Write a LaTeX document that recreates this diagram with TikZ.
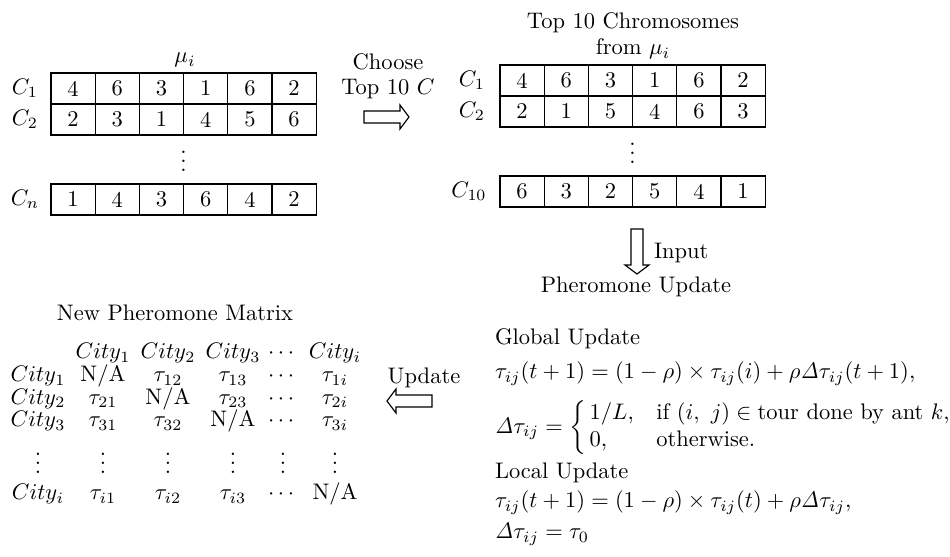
\documentclass[tikz,border=0pt]{standalone}
\usepackage{amsmath}
\newcommand\vdts{\vbox{\baselineskip4pt\lineskiplimit0pt\hbox{.}\hbox{.}\hbox{.}}}
\begin{document}
\begin{tikzpicture}[x=0.4444pt,y=-0.4444pt,
  cell/.style={draw, line width=0.5pt, minimum width=19.64pt, minimum height=13.78pt, inner sep=0pt, outer sep=0pt},
  txt/.style={inner sep=0pt, outer sep=0pt},
  bl/.style={inner sep=0pt, outer sep=0pt, anchor=base},
  blw/.style={inner sep=0pt, outer sep=0pt, anchor=base west},
  harrow/.pic={\draw[line width=0.5pt] (0,-6)--(36,-6)--(36,-12)--(45,0)--(36,12)--(36,6)--(0,6)--cycle;}]
\useasboundingbox (0,0) rectangle (950,557);
% ---------- left array
\node[txt] (Ltitle) at (185,60) {$\mu_i$};
\foreach \v [count=\k] in {4,6,3,1,6,2} \node[cell] (La\k) at ({51+44.2*(\k-0.5)},88.5) {\v};
\foreach \v [count=\k] in {2,3,1,4,5,6} \node[cell] (Lb\k) at ({51+44.2*(\k-0.5)},119.5) {\v};
\foreach \v [count=\k] in {1,4,3,6,4,2} \node[cell] (Ln\k) at ({51+44.2*(\k-0.5)},199.5) {\v};
\node[txt] (LaC) at (25,88.5) {$C_1$};
\node[txt] (LbC) at (25,119.5) {$C_2$};
\node[txt] (LnC) at (25,199.5) {$C_n$};
\node[txt] (Ldots) at (183.6,161) {\vdts};
% ---------- choose
\node[txt] (ch1) at (388,62) {Choose};
\node[txt] (ch2) at (388,89) {Top 10 $C$};
\pic at (364,117) {harrow};
% ---------- right array
\node[txt] (Rt1) at (633,23) {Top 10 Chromosomes};
\node[txt] (Rt2) at (633,49) {from $\mu_i$};
\foreach \v [count=\k] in {4,6,3,1,6,2} \node[cell] (Ra\k) at ({500+44.2*(\k-0.5)},80.5) {\v};
\foreach \v [count=\k] in {2,1,5,4,6,3} \node[cell] (Rb\k) at ({500+44.2*(\k-0.5)},111.5) {\v};
\foreach \v [count=\k] in {6,3,2,5,4,1} \node[cell] (Rn\k) at ({500+44.2*(\k-0.5)},191.5) {\v};
\node[txt] (RaC) at (472,80.5) {$C_1$};
\node[txt] (RbC) at (472,111.5) {$C_2$};
\node[txt] (RnC) at (469,191.5) {$C_{10}$};
\node[txt] (Rdots) at (632.6,153) {\vdts};
% ---------- input arrow
\pic[rotate=-90] at (637,229) {harrow};
\node[txt, anchor=west] (inp) at (654,253) {Input};
\node[txt] (pu) at (636,287) {Pheromone Update};
% ---------- equations
\node[blw] (G) at (495,345) {Global Update};
\node[blw] (E1) at (495,379) {$\tau_{ij}(t+1)=(1-\rho)\times\tau_{ij}(i)+\rho\mathit{\Delta}\tau_{ij}(t+1),$};
\node[txt, anchor=west] (E2) at (495,428) {$\mathit{\Delta}\tau_{ij}=\left\{\begin{array}{@{\,}l@{\quad}l@{}}1/L, & \text{if } (i,\ j)\in\text{tour done by ant } k,\\ 0, & \text{otherwise.}\end{array}\right.$};
\node[blw] (Lo) at (495,479) {Local Update};
\node[blw] (E3) at (495,508) {$\tau_{ij}(t+1)=(1-\rho)\times\tau_{ij}(t)+\rho\mathit{\Delta}\tau_{ij},$};
\node[blw] (E4) at (495,539) {$\mathit{\Delta}\tau_{ij}=\tau_0$};
% ---------- update arrow
\node[txt] (upd) at (424,378) {Update};
\pic[rotate=180] at (432,401) {harrow};
% ---------- matrix
\node[txt] (mt) at (175,313) {New Pheromone Matrix};
\node[bl] (h1) at (103,359) {$City_1$};
\node[bl] (h2) at (168,359) {$City_2$};
\node[bl] (h3) at (233,359) {$City_3$};
\node[bl] (hd) at (283,359) {$\cdots$};
\node[bl] (hi) at (335,359) {$City_i$};
\node[bl] (r1) at (38,382) {$City_1$};
\node[bl] (m11) at (103,382) {N/A};
\node[bl] (m12) at (168,382) {$\tau_{12}$};
\node[bl] (m13) at (233,382) {$\tau_{13}$};
\node[bl] (m1d) at (283,382) {$\cdots$};
\node[bl] (m1i) at (335,382) {$\tau_{1i}$};
\node[bl] (r2) at (38,404.5) {$City_2$};
\node[bl] (m21) at (103,404.5) {$\tau_{21}$};
\node[bl] (m22) at (168,404.5) {N/A};
\node[bl] (m23) at (233,404.5) {$\tau_{23}$};
\node[bl] (m2d) at (283,404.5) {$\cdots$};
\node[bl] (m2i) at (335,404.5) {$\tau_{2i}$};
\node[bl] (r3) at (38,427) {$City_3$};
\node[bl] (m31) at (103,427) {$\tau_{31}$};
\node[bl] (m32) at (168,427) {$\tau_{32}$};
\node[bl] (m33) at (233,427) {N/A};
\node[bl] (m3d) at (283,427) {$\cdots$};
\node[bl] (m3i) at (335,427) {$\tau_{3i}$};
\foreach \xx [count=\k] in {38,103,168,233,283,335} \node[txt] (vd\k) at (\xx,463) {\vdts};
\node[bl] (ri) at (38,500) {$City_i$};
\node[bl] (mi1) at (103,500) {$\tau_{i1}$};
\node[bl] (mi2) at (168,500) {$\tau_{i2}$};
\node[bl] (mi3) at (233,500) {$\tau_{i3}$};
\node[bl] (mid) at (283,500) {$\cdots$};
\node[bl] (mii) at (335,500) {N/A};
\end{tikzpicture}
\end{document}
